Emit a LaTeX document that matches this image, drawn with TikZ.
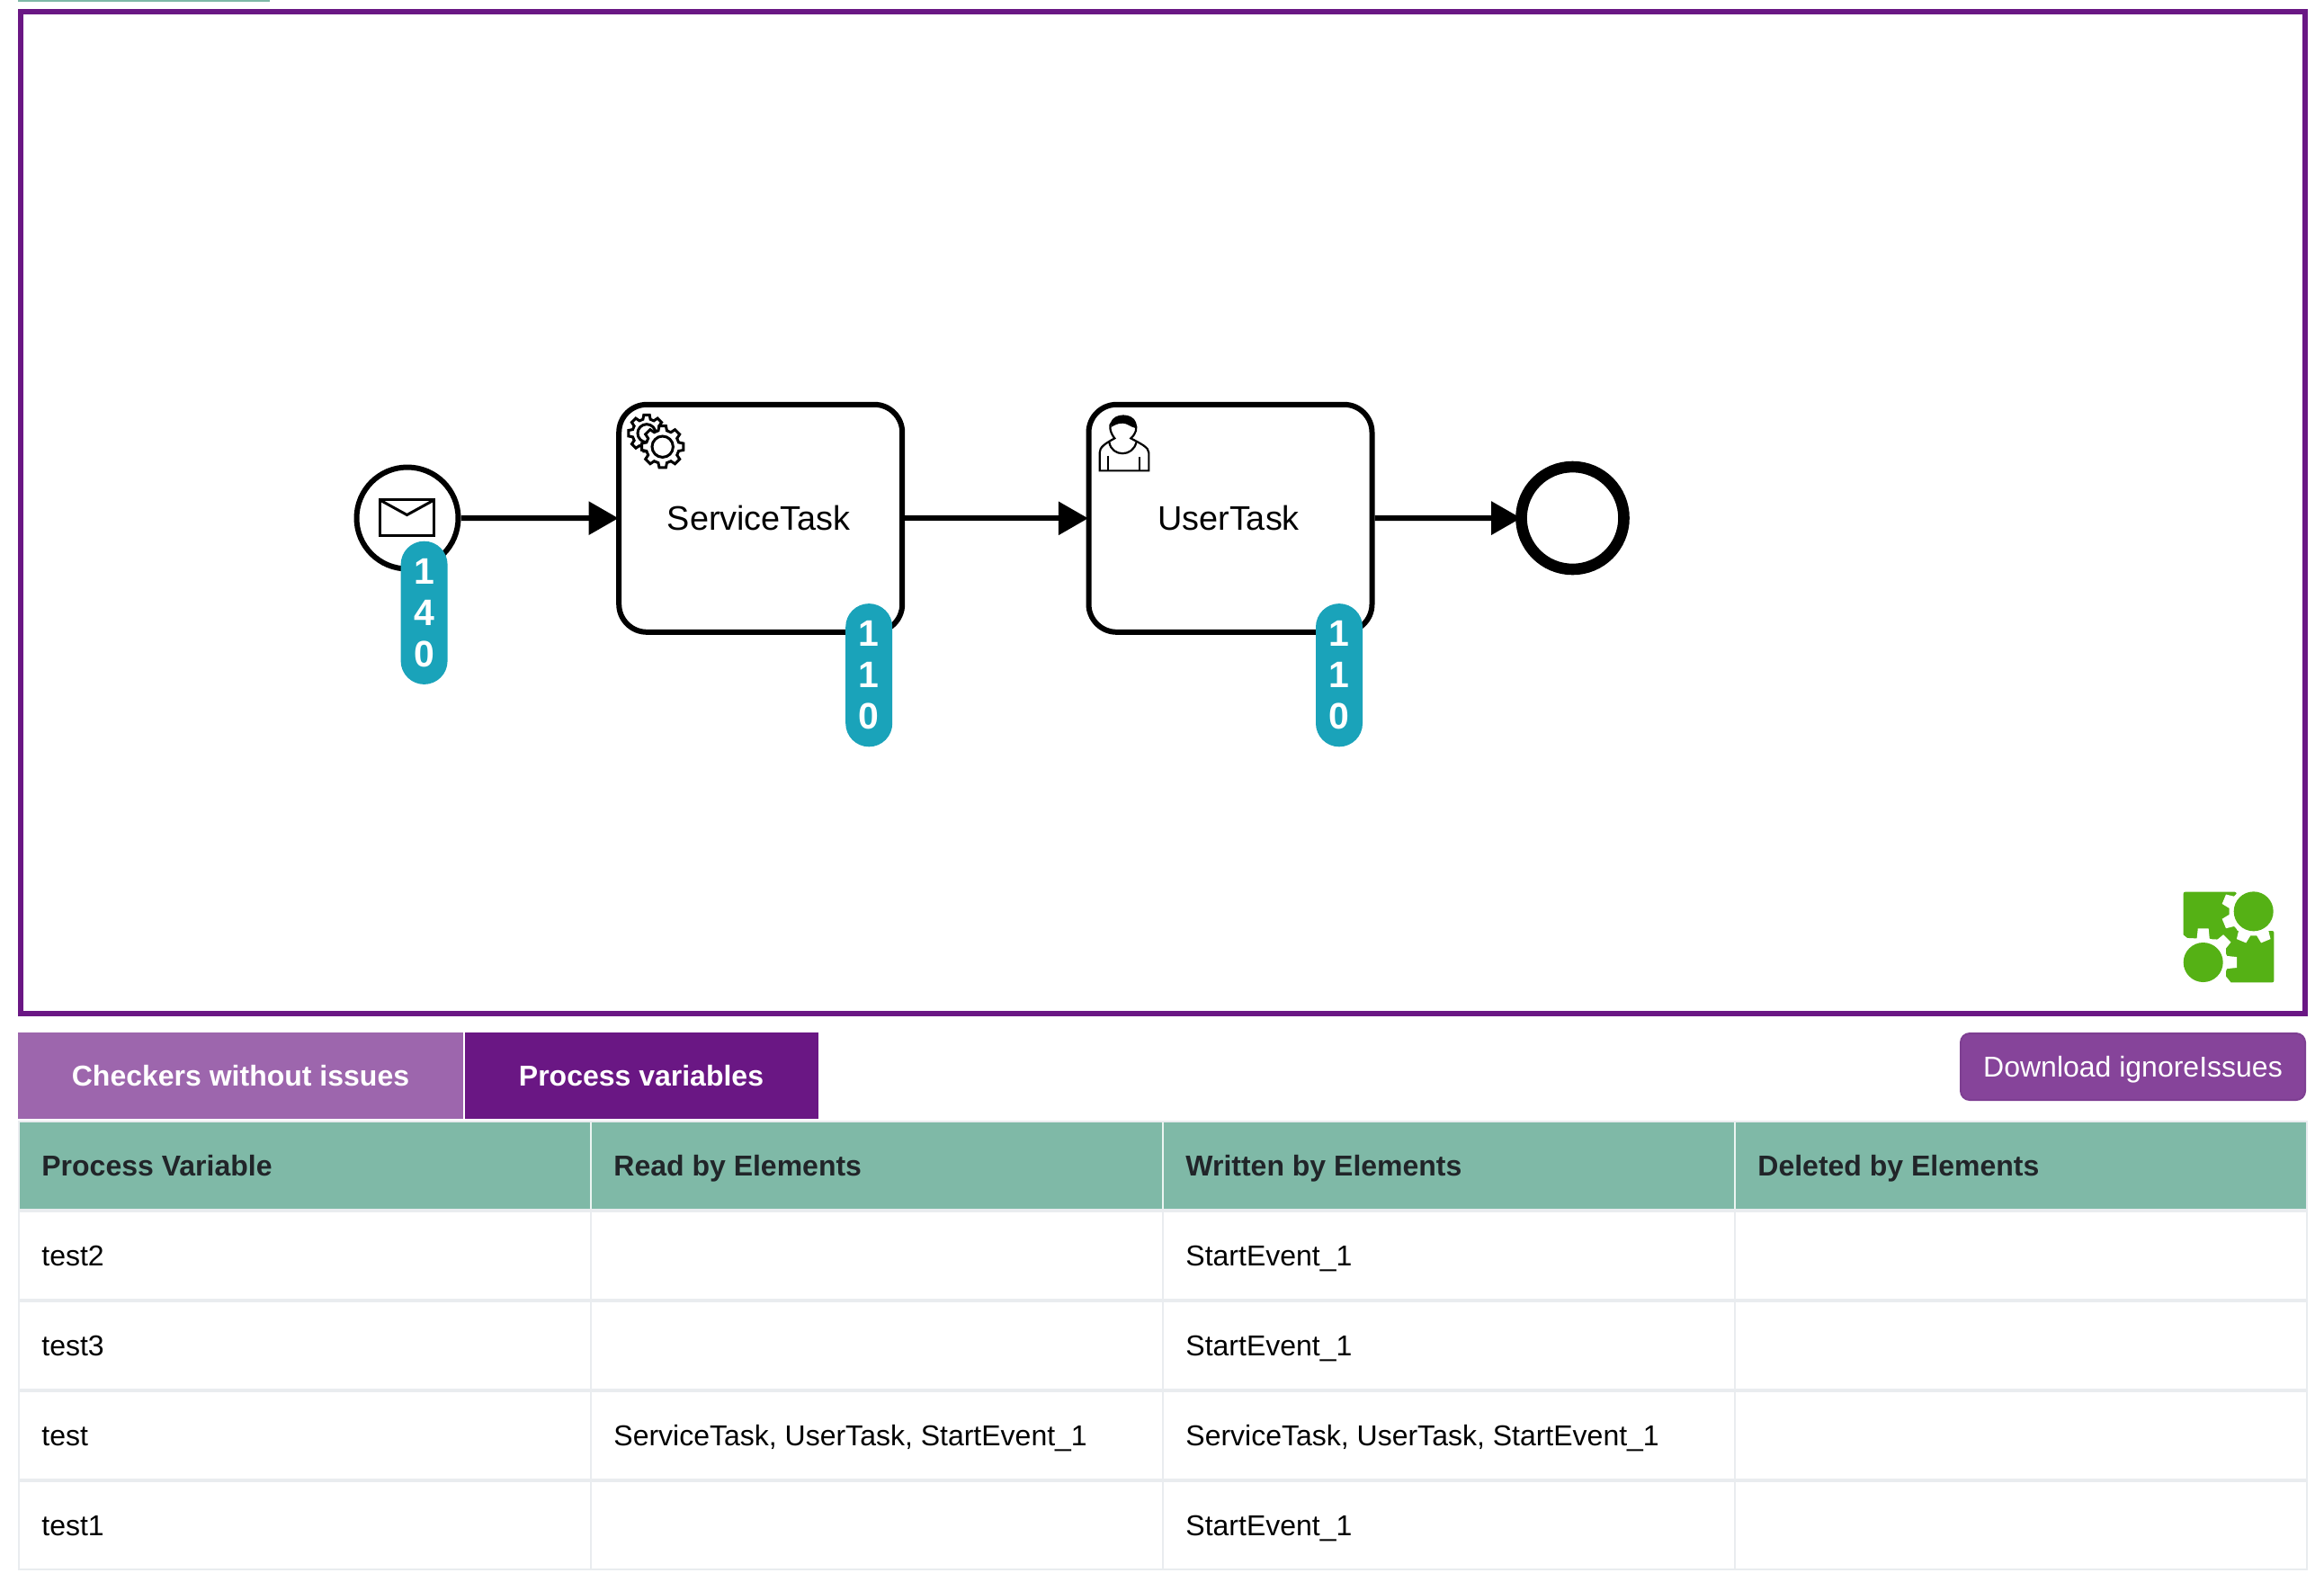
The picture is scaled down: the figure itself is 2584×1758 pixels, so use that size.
\documentclass[tikz,border=0pt]{standalone}
\usepackage{fontspec}
\setmainfont{Liberation Sans}
\usetikzlibrary{arrows.meta}
\definecolor{framepurple}{HTML}{6A1784}
\definecolor{tablight}{HTML}{9D66AD}
\definecolor{btnpurple}{HTML}{86449A}
\definecolor{btnborder}{HTML}{7E3F92}
\definecolor{headgreen}{HTML}{7FB9A7}
\definecolor{linegrey}{HTML}{E9ECEF}
\definecolor{badgeblue}{HTML}{1AA3BA}
\definecolor{logogreen}{HTML}{55B115}
\definecolor{headtext}{HTML}{212529}
\tikzset{
  taskbox/.style={draw=black,fill=white,line width=3pt,rounded corners=15.5pt,
    minimum width=157.5pt,minimum height=126.5pt,inner sep=0pt,
    font=\fontsize{18.9}{22}\selectfont},
  startev/.style={circle,draw=black,fill=white,line width=3pt,minimum size=113pt/2,inner sep=0pt},
  endev/.style={circle,draw=black,fill=white,line width=6.3pt,minimum size=114pt/2,inner sep=0pt},
  flow/.style={draw=black,line width=3pt,-{Triangle[length=16.5pt,width=18pt]}},
  badge/.style={fill=badgeblue,text=white,rounded corners=13pt,minimum width=26pt,minimum height=79.6pt,
    inner sep=0pt,align=center,font=\fontsize{20.5}{23}\selectfont\bfseries},
  tabtext/.style={text=white,anchor=base,inner sep=0pt,font=\fontsize{16}{19}\selectfont\bfseries},
  headcell/.style={text=headtext,anchor=base west,inner sep=0pt,font=\fontsize{16}{19}\selectfont\bfseries},
  bodycell/.style={text=black,anchor=base west,inner sep=0pt,font=\fontsize{16}{19}\selectfont},
  iconline/.style={draw=black,fill=white,line width=1.5pt,line join=miter},
  thinline/.style={draw=black,line width=1.1pt}
}
\newcommand{\gearshape}[6]{% cx cy Rout Rroot phase style
  \path[#6,shift={(#1,#2)}] ({#5-15}:#4)
    \foreach \k in {0,...,7}{ -- ({#5+45*\k-15}:#4) -- ({#5+45*\k-9}:#3) -- ({#5+45*\k+9}:#3) -- ({#5+45*\k+15}:#4) } -- cycle;
}
\begin{document}
\begin{tikzpicture}[x=0.5pt,y=-0.5pt]
\useasboundingbox (0,0) rectangle (2584,1758);
\fill[white] (0,0) rectangle (2584,1758);
% top strip and frame
\fill[headgreen] (20,0) rectangle (300,2);
\draw[framepurple,line width=3pt] (23,13) rectangle (2563,1127);

% BPMN nodes
\node[startev] (start) at (453,576) {};
\node[taskbox] (svc) at (845.7,576.3) {\kern-1pt ServiceTask\kern1pt};
\node[taskbox] (usr) at (1368,576.3) {\kern-1pt UserTask\kern1pt};
\node[endev] (end) at (1748.5,576) {};
\draw[flow,shorten >=-1.2pt] (start) -- (svc);
\draw[flow,shorten >=-1.2pt] (svc) -- (usr);
\draw[flow,shorten >=-3pt] (usr) -- (end);

% envelope
\draw[black,line width=1.5pt,line join=miter] (422.5,555.5) rectangle (482.5,595.5);
\draw[black,line width=1.5pt,line join=miter] (422.5,556) -- (452.5,572.5) -- (482.5,556);

% service icon
\gearshape{719}{481.7}{20.5}{16}{0}{iconline}
\draw[black,line width=1.5pt] (719,481.7) circle (10);
\gearshape{736.7}{496.7}{23.5}{18.5}{0}{iconline}
\draw[black,line width=1.5pt] (736.7,496.7) circle (11.7);

% user icon
\begin{scope}[shift={(1200,440)},x=0.16667pt,y=-0.16667pt]
  \draw[thinline,fill=white] (68,250) -- (68,190) .. controls (68,172) and (85,160) .. (118,142)
    .. controls (100,120) and (100,95) .. (108,90) .. controls (118,60) and (176,60) .. (186,90)
    .. controls (194,110) and (190,125) .. (172,142) .. controls (205,160) and (232,172) .. (232,190) -- (232,250) -- cycle;
  \fill[black] (106,105) .. controls (108,55) and (186,55) .. (188,108)
    .. controls (170,104) and (160,92) .. (145,92) .. controls (128,92) and (118,98) .. (106,105) -- cycle;
  \draw[thinline] (100,155) .. controls (108,205) and (180,205) .. (190,155);
  \draw[thinline] (95,200) -- (95,250);
  \draw[thinline] (202,205) -- (202,250);
\end{scope}

% badges
\node[badge] (b1) at (471.6,681.3) {1\\4\\0};
\node[badge] (b2) at (966.2,750.7) {1\\1\\0};
\node[badge] (b3) at (1489,750.7) {1\\1\\0};

% logo
\begin{scope}[shift={(2380,960)},x=0.16667pt,y=-0.16667pt]
  \fill[logogreen,rounded corners=1pt] (143,95) -- (320,95) -- (320,225) -- (445,225) -- (445,397)
    -- (285,397) -- (285,255) -- (143,248) -- cycle;
  \gearshape{377}{160}{108}{82}{22.5}{fill=white}
  \gearshape{209}{330}{114}{82}{0}{fill=white}
  \fill[logogreen] (377,160) circle (66);
  \fill[logogreen] (209,330) circle (66);
\end{scope}

% tabs
\fill[tablight] (20,1148) rectangle (515,1244);
\fill[framepurple] (517,1148) rectangle (910,1244);
\node[tabtext] (tabA) at (267.5,1207) {Checkers without issues};
\node[tabtext] (tabB) at (713,1207) {Process variables};

% button
\draw[btnborder,fill=btnpurple,line width=1pt,rounded corners=5pt] (2180,1149) rectangle (2563,1223);
\node[anchor=base,inner sep=0pt,text=white,font=\fontsize{16}{19}\selectfont] (dl) at (2371.5,1197) {Download ignoreIssues};

% table
\fill[linegrey] (20,1246) rectangle (2566,1746);
\fill[white] (22,1348) rectangle (2564,1744);
\fill[headgreen] (22,1248) rectangle (2564,1344);
\foreach \xx in {656,1292,1928}{
  \fill[white!85!headgreen] (\xx,1248) rectangle (\xx+2,1344);
  \fill[linegrey] (\xx,1348) rectangle (\xx+2,1744);
}
\foreach \yy in {1444,1544,1644}{
  \fill[linegrey] (22,\yy) rectangle (2564,\yy+4);
}
\node[headcell] (h1) at (46,1307) {Process Variable};
\node[headcell] (h2) at (682,1307) {Read by Elements};
\node[headcell] (h3) at (1318,1307) {Written by Elements};
\node[headcell] (h4) at (1954,1307) {Deleted by Elements};
\node[bodycell] (r1a) at (46,1407) {test2};
\node[bodycell] (r1c) at (1318,1407) {StartEvent\_1};
\node[bodycell] (r2a) at (46,1507) {test3};
\node[bodycell] (r2c) at (1318,1507) {StartEvent\_1};
\node[bodycell] (r3a) at (46,1607) {test};
\node[bodycell] (r3b) at (682,1607) {ServiceTask, UserTask, StartEvent\_1};
\node[bodycell] (r3c) at (1318,1607) {ServiceTask, UserTask, StartEvent\_1};
\node[bodycell] (r4a) at (46,1707) {test1};
\node[bodycell] (r4c) at (1318,1707) {StartEvent\_1};
\end{tikzpicture}
\end{document}
